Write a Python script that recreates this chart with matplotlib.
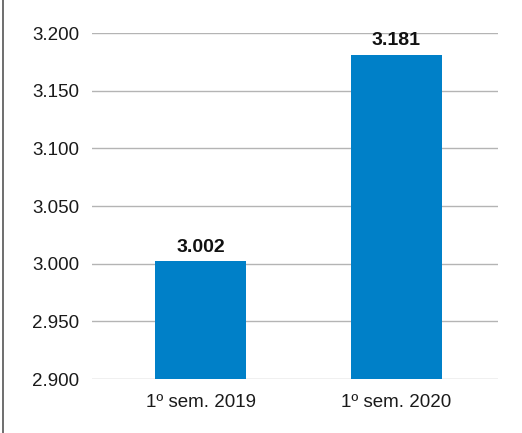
import matplotlib
matplotlib.use("Agg")
import matplotlib.pyplot as plt
from matplotlib.lines import Line2D

categories = ["1º sem. 2019", "1º sem. 2020"]
values = [3002, 3181]
yticks = [2900, 2950, 3000, 3050, 3100, 3150, 3200]

def fmt(v):
    return f"{v:,}".replace(",", ".")

plt.rcParams["font.family"] = ["Liberation Sans", "DejaVu Sans"]

fig = plt.figure(figsize=(5.22, 4.33), dpi=100)
W, H = 522, 433
ax = fig.add_axes([92 / W, 1 - 379 / H, (498 - 92) / W, (379 - 33) / H])

x = list(range(len(categories)))
ax.bar(x, values, width=0.464, color="#0080c8", zorder=3)
ax.set_ylim(2900, 3200)
ax.set_xlim(-0.554, 1.518)
ax.set_yticks(yticks)
ax.set_yticklabels([fmt(v) for v in yticks], fontsize=13.5, color="#1a1a1a")
ax.set_xticks(x)
ax.set_xticklabels(categories, fontsize=13.5, color="#1a1a1a")
ax.tick_params(axis="y", length=0, pad=9)
ax.tick_params(axis="x", length=0, pad=11)
ax.grid(axis="y", color="#b4b4b4", linewidth=1.0, zorder=0)
for s in ax.spines.values():
    s.set_visible(False)

for xi, v in zip(x, values):
    ax.annotate(fmt(v), (xi, v), xytext=(0, 4), textcoords="offset points",
                ha="center", va="bottom", fontsize=14, fontweight="bold", color="#111111")

fig.add_artist(Line2D([2.5 / W, 2.5 / W], [0, 1], transform=fig.transFigure,
                      color="#555555", linewidth=1.2))

fig.savefig("out.png", dpi=100)
